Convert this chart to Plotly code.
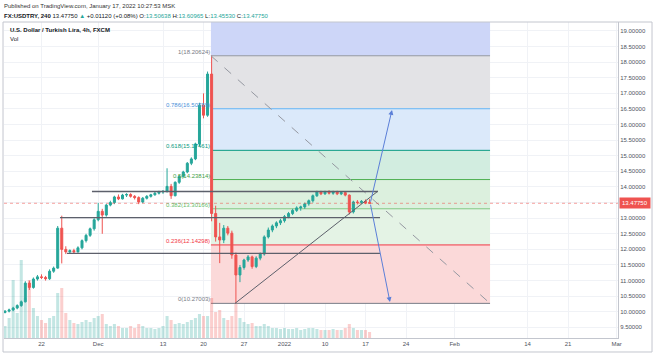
import pandas as pd
import plotly.graph_objects as go

# ---------------- data ----------------
# 12-hour bars, Nov 15 2021 12:00 .. Jan 17 2022 12:00 (weekdays only)
_days = pd.bdate_range("2021-11-15", "2022-01-17")
BAR_TIMES = [d + pd.Timedelta(hours=h) for d in _days for h in (0, 12)][1:]

OPEN = [9.98, 10.02, 10.06, 10.12, 10.2, 10.32, 10.92, 10.78, 11.05, 11.12,
        11.1, 11.06, 11.3, 11.4, 12.68, 12.0, 11.92, 11.96, 11.92, 12.05,
        12.28, 12.45, 12.66, 12.95, 13.22, 13.1, 13.42, 13.5, 13.68, 13.62,
        13.74, 13.76, 13.7, 13.66, 13.52, 13.64, 13.7, 13.75, 13.8, 13.84,
        13.86, 14.02, 13.72, 14.15, 14.34, 14.48, 14.76, 14.9, 15.38, 16.62,
        16.3, 17.62, 13.15, 12.4, 12.3, 12.68, 12.52, 11.82, 11.18, 11.42,
        11.66, 11.76, 11.45, 11.72, 11.85, 12.4, 12.62, 12.75, 12.85, 12.92,
        13.05, 13.15, 13.25, 13.33, 13.36, 13.46, 13.56, 13.72, 13.84, 13.78,
        13.85, 13.8, 13.84, 13.78, 13.82, 13.74, 13.2, 13.52, 13.5, 13.54,
        13.50638]
HIGH = [10.05, 10.1, 10.16, 10.24, 10.36, 10.98, 11.0, 11.1, 11.18, 11.2,
        11.15, 11.36, 11.45, 12.75, 13.08, 12.1, 12.0, 12.02, 12.1, 12.32,
        12.5, 12.7, 13.0, 13.49, 13.3, 13.46, 13.56, 13.72, 13.76, 13.78,
        13.8, 13.8, 13.74, 13.7, 13.68, 13.74, 13.78, 13.84, 13.88, 13.9,
        14.6, 14.1, 14.18, 14.38, 14.52, 14.8, 14.95, 15.42, 16.7, 17.0,
        17.7, 18.20624, 13.4, 12.85, 12.78, 12.75, 12.6, 11.9, 11.5, 11.7,
        11.82, 11.8, 11.78, 11.9, 12.45, 12.7, 12.8, 12.9, 12.98, 13.1,
        13.2, 13.3, 13.38, 13.4, 13.5, 13.6, 13.76, 13.88, 13.88, 13.88,
        13.9, 13.88, 13.88, 13.86, 13.85, 13.76, 13.56, 13.58, 13.58, 13.6,
        13.60965]
LOW = [9.95, 9.98, 10.02, 10.08, 10.16, 10.3, 10.7, 10.74, 11.0, 11.05,
       11.0, 11.02, 11.25, 11.38, 11.55, 11.85, 11.86, 11.88, 11.9, 12.0,
       12.22, 12.4, 12.6, 12.9, 12.5, 13.05, 13.38, 13.45, 13.58, 13.6,
       13.68, 13.66, 13.6, 13.45, 13.48, 13.6, 13.66, 13.72, 13.76, 13.78,
       13.82, 13.62, 13.7, 14.1, 14.3, 14.44, 14.7, 14.86, 15.3, 16.2,
       16.25, 12.9, 12.25, 11.56, 12.2, 12.45, 11.7, 10.27003, 10.95, 11.35,
       11.6, 11.38, 11.4, 11.65, 11.8, 12.35, 12.55, 12.68, 12.78, 12.86,
       13.0, 13.1, 13.2, 13.24, 13.3, 13.4, 13.5, 13.68, 13.74, 13.75,
       13.76, 13.75, 13.74, 13.74, 13.7, 13.12, 13.15, 13.44, 13.46, 13.45,
       13.4553]
CLOSE = [10.02, 10.06, 10.12, 10.2, 10.32, 10.92, 10.78, 11.05, 11.12, 11.1,
         11.06, 11.3, 11.4, 12.68, 12.0, 11.92, 11.96, 11.92, 12.05, 12.28,
         12.45, 12.66, 12.95, 13.22, 13.1, 13.42, 13.5, 13.68, 13.62, 13.74,
         13.76, 13.7, 13.66, 13.52, 13.64, 13.7, 13.75, 13.8, 13.84, 13.86,
         14.02, 13.72, 14.15, 14.34, 14.48, 14.76, 14.9, 15.38, 16.62, 16.3,
         17.62, 13.15, 12.4, 12.3, 12.68, 12.52, 11.82, 11.18, 11.42, 11.66,
         11.76, 11.45, 11.72, 11.85, 12.4, 12.62, 12.75, 12.85, 12.92, 13.05,
         13.15, 13.25, 13.33, 13.36, 13.46, 13.56, 13.72, 13.84, 13.78, 13.85,
         13.8, 13.84, 13.78, 13.82, 13.74, 13.2, 13.52, 13.5, 13.54, 13.49,
         13.4775]
VOLUME = [12, 20, 58, 25, 78, 40, 58, 30, 22, 18,
          15, 20, 22, 45, 50, 25, 18, 15, 14, 16,
          18, 16, 20, 22, 24, 14, 12, 14, 12, 10,
          10, 12, 10, 14, 12, 10, 10, 9, 10, 12,
          22, 18, 14, 15, 14, 16, 18, 20, 24, 22,
          22, 40, 26, 28, 20, 18, 22, 34, 20, 16,
          14, 15, 12, 12, 14, 12, 10, 10, 9, 10,
          9, 9, 10, 8, 9, 10, 10, 9, 8, 8,
          8, 9, 8, 8, 10, 14, 10, 8, 8, 8,
          6]

LAST_PRICE = 13.4775

# Fibonacci retracement
FIB_RATIOS = ["0", "0.236", "0.382", "0.5", "0.618", "0.786", "1"]
FIB_PRICES = [10.27003, 12.14298, 13.30166, 14.23814, 15.17461, 16.50789, 18.20624]
FIB_EXT_PRICE = 23.11    # 1.618 level, above the visible area
FIB_START = "2021-12-20 22:00"
FIB_END = "2022-02-07 09:00"
FIB_LINE_COLORS = ["#787b86", "#f23645", "#81c784", "#4caf50", "#089981", "#64b5f6", "#9598a1"]
FIB_TEXT_COLORS = ["#787b86", "#f23645", "#66bb6a", "#43a047", "#089981", "#4a90d9", "#787b86"]
FIB_ZONE_COLORS = ["#fbd9d9", "#e4f3e5", "#dcf0de", "#d2ede0", "#dbe9fa", "#e3e3e6", "#cdd6f8"]

# hand-drawn horizontal levels
HLINE_PRICES = [13.856, 13.02, 11.87]
HLINE_STARTS = ["2021-11-30 05:30", "2021-11-24 06:45", "2021-11-25 03:30"]
HLINE_ENDS = ["2022-01-18 13:00", "2022-01-18 19:00", "2022-01-18 19:00"]

# rising trend line
TREND_START = ("2021-12-23 21:20", 10.27)
TREND_END = ("2022-01-18 13:00", 13.87)

# projection arrows
ARROW_START = ("2022-01-17 14:00", 13.48)
ARROW_ENDS = [("2022-01-20 06:30", 16.47), ("2022-01-20 00:30", 10.31)]

# axes
X_RANGE = ["2021-11-15 08:53", "2022-03-01 04:05"]
Y_RANGE = [9.16, 19.288]
X_TICKS = ["2021-11-22", "2021-12-01", "2021-12-13", "2021-12-20", "2021-12-27",
           "2022-01-03", "2022-01-10", "2022-01-17", "2022-01-24", "2022-02-01",
           "2022-02-14", "2022-02-21", "2022-03-01"]
X_LABELS = ["22", "Dec", "13", "20", "27", "2022", "10", "17", "24", "Feb", "14", "21", "Mar"]
Y_TICKS = [9.5, 10.0, 10.5, 11.0, 11.5, 12.0, 12.5, 13.0, 13.5, 14.0, 14.5, 15.0,
           15.5, 16.0, 16.5, 17.0, 17.5, 18.0, 18.5, 19.0]
Y_LABELS = ["" if v == 13.5 else f"{v:.5f}" for v in Y_TICKS]

# ---------------- figure ----------------
FONT = "Liberation Sans, Arial, sans-serif"
UP, DOWN = "#26a69a", "#ef5350"

fig = go.Figure()

vol_colors = ["rgba(38,166,154,0.28)" if c >= o else "rgba(239,83,80,0.28)"
              for o, c in zip(OPEN, CLOSE)]
fig.add_trace(go.Bar(x=BAR_TIMES, y=VOLUME, yaxis="y2", marker_color=vol_colors,
                     marker_line_width=0, hoverinfo="skip"))

fig.add_trace(go.Candlestick(
    x=BAR_TIMES, open=OPEN, high=HIGH, low=LOW, close=CLOSE,
    increasing=dict(line=dict(color=UP, width=1), fillcolor=UP),
    decreasing=dict(line=dict(color=DOWN, width=1), fillcolor=DOWN),
    whiskerwidth=0))

shapes = []
# fib zones
bounds = FIB_PRICES + [FIB_EXT_PRICE]
for i in range(len(FIB_PRICES)):
    shapes.append(dict(type="rect", xref="x", yref="y", x0=FIB_START, x1=FIB_END,
                       y0=bounds[i], y1=bounds[i + 1], fillcolor=FIB_ZONE_COLORS[i],
                       line_width=0, layer="between"))
# fib lines
for p, c in zip(FIB_PRICES, FIB_LINE_COLORS):
    shapes.append(dict(type="line", xref="x", yref="y", x0=FIB_START, x1=FIB_END,
                       y0=p, y1=p, line=dict(color=c, width=1), layer="between"))
# fib diagonal
shapes.append(dict(type="line", xref="x", yref="y", x0=FIB_START, x1=FIB_END,
                   y0=FIB_PRICES[-1], y1=FIB_PRICES[0],
                   line=dict(color="#9598a1", width=1, dash="dash"), layer="above"))
# current price line
shapes.append(dict(type="line", xref="paper", yref="y", x0=0, x1=1,
                   y0=LAST_PRICE, y1=LAST_PRICE,
                   line=dict(color="rgba(239,83,80,0.55)", width=1, dash="dot"),
                   layer="above"))
# horizontal levels
for p, s, e in zip(HLINE_PRICES, HLINE_STARTS, HLINE_ENDS):
    shapes.append(dict(type="line", xref="x", yref="y", x0=s, x1=e, y0=p, y1=p,
                       line=dict(color="#5d606b", width=1.3), layer="above"))
# trend line
shapes.append(dict(type="line", xref="x", yref="y", x0=TREND_START[0], y0=TREND_START[1],
                   x1=TREND_END[0], y1=TREND_END[1],
                   line=dict(color="#5d606b", width=1), layer="above"))
# outer frame
shapes.append(dict(type="rect", xref="paper", yref="paper", x0=-0.0016, x1=1.0554,
                   y0=-0.0443, y1=1.0, line=dict(color="#c3c6ce", width=1),
                   fillcolor="rgba(0,0,0,0)", layer="above"))

annotations = []
for r, p, c in zip(FIB_RATIOS, FIB_PRICES, FIB_TEXT_COLORS):
    annotations.append(dict(xref="x", yref="y", x=FIB_START, y=p, xanchor="right",
                            yanchor="bottom", text=f"{r}({p:.5f})", showarrow=False,
                            font=dict(size=6, color=c, family=FONT), borderpad=0))
for ex, ey in ARROW_ENDS:
    annotations.append(dict(xref="x", yref="y", x=ex, y=ey, axref="x", ayref="y",
                            ax=ARROW_START[0], ay=ARROW_START[1], text="",
                            showarrow=True, arrowhead=2, arrowsize=1, arrowwidth=1,
                            arrowcolor="#5b7fd8", standoff=0, startstandoff=0))
annotations.append(dict(xref="paper", yref="y", x=1.0, y=LAST_PRICE, xanchor="left",
                        yanchor="middle", xshift=1, text="13.47750", showarrow=False,
                        bgcolor=DOWN, borderpad=2,
                        font=dict(size=6, color="white", family=FONT)))
annotations.append(dict(xref="paper", yref="paper", x=0.0065, y=0.991, xanchor="left",
                        yanchor="top", showarrow=False,
                        text="<b>U.S. Dollar / Turkish Lira, 4h, FXCM</b>",
                        font=dict(size=6, color="#131722", family=FONT)))
annotations.append(dict(xref="paper", yref="paper", x=0.0065, y=0.963, xanchor="left",
                        yanchor="top", showarrow=False, text="Vol",
                        font=dict(size=6, color="#131722", family=FONT)))
annotations.append(dict(xref="paper", yref="paper", x=-0.0033, y=1.066, xanchor="left",
                        yanchor="top", showarrow=False,
                        text="Published on TradingView.com, January 17, 2022 10:27:53 MSK",
                        font=dict(size=6, color="#333333", family=FONT)))
teal = "#26a69a"
hdr = ("<b>FX:USDTRY, 240</b> 13.47750 "
       f"<span style='color:{teal}'>▲</span> +0.01120 (+0.08%) "
       f"O:<span style='color:{teal}'>13.50638</span> "
       f"H:<span style='color:{teal}'>13.60965</span> "
       f"L:<span style='color:{teal}'>13.45530</span> "
       f"C:<span style='color:{teal}'>13.47750</span>")
annotations.append(dict(xref="paper", yref="paper", x=-0.0033, y=1.035, xanchor="left",
                        yanchor="top", showarrow=False, text=hdr,
                        font=dict(size=6, color="#131722", family=FONT)))

fig.update_layout(
    width=654, height=356,
    margin=dict(l=4, r=36, t=22, b=18),
    paper_bgcolor="white", plot_bgcolor="white",
    showlegend=False, font=dict(family=FONT, size=6, color="#50535e"),
    shapes=shapes, annotations=annotations, bargap=0.25,
    xaxis=dict(type="date", range=X_RANGE, rangebreaks=[dict(bounds=["sat", "mon"])],
               rangeslider=dict(visible=False), tickmode="array", tickvals=X_TICKS,
               ticktext=X_LABELS, tickfont=dict(size=6, color="#50535e"),
               showgrid=True, gridcolor="#f0f2f6", gridwidth=1, showline=True,
               linecolor="#c3c6ce", linewidth=1, ticks="", zeroline=False,
               fixedrange=True),
    yaxis=dict(side="right", range=Y_RANGE, tickmode="array", tickvals=Y_TICKS,
               ticktext=Y_LABELS, tickfont=dict(size=6, color="#50535e"),
               showgrid=True, gridcolor="#f0f2f6", gridwidth=1, showline=True,
               linecolor="#c3c6ce", linewidth=1, ticks="", zeroline=False),
    yaxis2=dict(overlaying="y", range=[0, 316], visible=False, fixedrange=True),
)

fig.write_html("out.html", config={"displayModeBar": False},
               post_script="document.body.style.margin='0px';"
                           "document.body.style.overflow='hidden';")
